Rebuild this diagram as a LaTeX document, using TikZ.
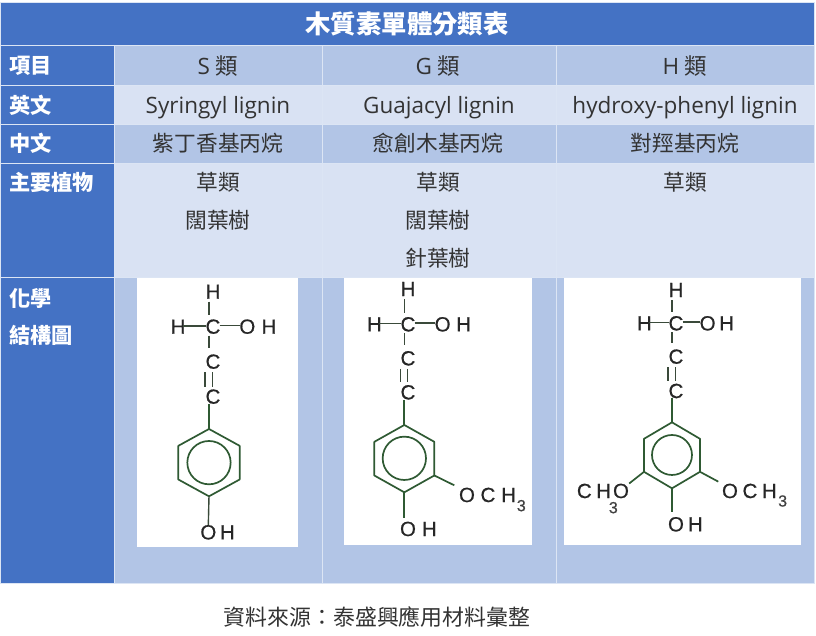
\documentclass[tikz,border=0pt]{standalone}
\usepackage{fontspec}
\setmainfont{Open Sans}
\newfontfamily\cjk{Noto Sans CJK TC}
\newfontfamily\atomfont[FakeBold=0.6]{Liberation Sans}
\definecolor{hdr}{HTML}{4472C4}
\definecolor{rowdark}{HTML}{B2C5E6}
\definecolor{rowlight}{HTML}{D9E2F3}
\definecolor{gridline}{HTML}{DCE5F4}
\definecolor{txt}{HTML}{333333}
\definecolor{ringgreen}{HTML}{2F5A33}
\definecolor{bondgrey}{HTML}{3A4A3A}
\tikzset{
  cellbox/.style={draw=gridline,line width=0.8pt,minimum width=0pt,inner sep=0pt},
  titletext/.style={text=white,font=\cjk\bfseries\fontsize{25.4}{28}\selectfont,anchor=center},
  sidetext/.style={text=white,font=\cjk\bfseries\fontsize{21.2}{24}\selectfont,anchor=west,inner sep=0pt},
  celltext/.style={text=txt,font=\fontsize{22.5}{25}\selectfont,anchor=center},
  cjkcell/.style={text=txt,font=\cjk\fontsize{21.7}{25}\selectfont,anchor=center},
  captiontext/.style={text=txt,font=\cjk\fontsize{21.9}{25}\selectfont,anchor=center},
  atom/.style={text=black!85,font=\atomfont\fontsize{20.5}{22}\selectfont,inner sep=0pt,anchor=center},
  subatom/.style={text=black!75,font=\atomfont\fontsize{16}{18}\selectfont,inner sep=0pt,anchor=center},
  ringbond/.style={draw=ringgreen,line width=1.7pt,line join=round},
  thinbond/.style={draw=bondgrey,line width=1.4pt},
  photo/.style={fill=white,draw=none}
}
\newcommand{\chain}[9]{%
  % #1 x of bonds, #2 x of atoms, #3 left H x, #4 O x, #5 H x, #6 top H y, #7 y C1, #8 y C2, #9 y C3
  \node[atom] (topH) at (#2,#6) {H};
  \node[atom] (cA) at (#2,#7) {C};
  \node[atom] (leftH) at (#3,#7) {H};
  \node[atom] (oA) at (#4,#7) {O};
  \node[atom] (hA) at (#5,#7) {H};
  \node[atom] (cB) at (#2,#8) {C};
  \node[atom] (cC) at (#2,#9) {C};
  \draw[thinbond] (#1,#6+30) coordinate (bA) -- (#1,#7-35) coordinate (bB);
  \draw[thinbond] (#3+15,#7-2) coordinate (bC) -- (#2-22,#7-2) coordinate (bD);
  \draw[thinbond] (#2+20,#7-4) coordinate (bE) -- (#4-22,#7-4) coordinate (bF);
  \draw[thinbond] (#1,#7+27) coordinate (bG) -- (#1,#8-40) coordinate (bH);
  \draw[thinbond] (#1-12,#8+32) coordinate (bI) -- (#1-12,#9-30) coordinate (bJ);
  \draw[thinbond] (#1+10,#8+32) coordinate (bK) -- (#1+10,#9-30) coordinate (bL);
}
\newcommand{\ring}[4]{%
  % #1 cx, #2 cy, #3 half-width, #4 half-height
  \coordinate (r1) at (#1,#2-#4);
  \coordinate (r2) at (#1+#3,#2-#4/2);
  \coordinate (r3) at (#1+#3,#2+#4/2);
  \coordinate (r4) at (#1,#2+#4);
  \coordinate (r5) at (#1-#3,#2+#4/2);
  \coordinate (r6) at (#1-#3,#2-#4/2);
  \draw[ringbond] (r1) -- (r2) -- (r3) -- (r4) -- (r5) -- (r6) -- cycle;
}
\begin{document}
\begin{tikzpicture}[x=1pt,y=-1pt]
\useasboundingbox (0,0) rectangle (816,635);
\fill[white] (0,0) rectangle (816,635);
% title bar
\draw[cellbox,fill=hdr] (0,2) rectangle (814,45);
\node[titletext] (title) at (407,24) {木質素單體分類表};
% row header column
\draw[cellbox,fill=hdr] (0,45) rectangle (114,85);
\draw[cellbox,fill=hdr] (0,85) rectangle (114,124);
\draw[cellbox,fill=hdr] (0,124) rectangle (114,163);
\draw[cellbox,fill=hdr] (0,163) rectangle (114,277);
\draw[cellbox,fill=hdr] (0,277) rectangle (114,583);
% body cells
\foreach \xa/\xb in {114/322,322/556,556/814}{
  \draw[cellbox,fill=rowdark] (\xa,45) rectangle (\xb,85);
  \draw[cellbox,fill=rowlight] (\xa,85) rectangle (\xb,124);
  \draw[cellbox,fill=rowdark] (\xa,124) rectangle (\xb,163);
  \draw[cellbox,fill=rowlight] (\xa,163) rectangle (\xb,277);
  \draw[cellbox,fill=rowdark] (\xa,277) rectangle (\xb,583);
}
% side labels
\node[sidetext] (s1) at (9,66) {項目};
\node[sidetext] (s2) at (9,105) {英文};
\node[sidetext] (s3) at (9,143) {中文};
\node[sidetext] (s4) at (9,182) {主要植物};
\node[sidetext] (s5) at (9,298) {化學};
\node[sidetext] (s6) at (9,335) {結構圖};
% column S
\node[celltext] (a1) at (218,66) {S {\cjk 類}};
\node[celltext] (a2) at (218,108) {Syringyl lignin};
\node[cjkcell] (a3) at (218,143) {紫丁香基丙烷};
\node[cjkcell] (a4) at (218,182) {草類};
\node[cjkcell] (a5) at (218,220) {闊葉樹};
% column G
\node[celltext] (b1) at (438,66) {G {\cjk 類}};
\node[celltext] (b2) at (439,108) {Guajacyl lignin};
\node[cjkcell] (b3) at (438,143) {愈創木基丙烷};
\node[cjkcell] (b4) at (438,182) {草類};
\node[cjkcell] (b5) at (438,220) {闊葉樹};
\node[cjkcell] (b6) at (438,258) {針葉樹};
% column H
\node[celltext] (c1) at (685,66) {H {\cjk 類}};
\node[celltext] (c2) at (685,108) {hydroxy-phenyl lignin};
\node[cjkcell] (c3) at (685,143) {對羥基丙烷};
\node[cjkcell] (c4) at (685,182) {草類};
% caption
\node[captiontext] (cap) at (377,617) {資料來源：泰盛興應用材料彙整};
% photos
\fill[photo] (137,278) rectangle (298,547);
\fill[photo] (344,278) rectangle (532,545);
\fill[photo] (564,278) rectangle (801,545);
% molecule S
\begin{scope}[shift={(114,275)},x=0.3333pt,y=-0.3333pt]
  \chain{285}{297}{192}{400}{465}{50}{155}{260}{365}
  \ring{285}{563}{92}{101}
  \draw[ringbond] (285,563) circle[radius=65];
  \node[atom] (oB) at (283,772) {O};
  \node[atom] (hB) at (340,772) {H};
  \draw[ringbond] (cC.south -| r1) -- (r1);
  \draw[thinbond] (r4) -- (oB.north);
\end{scope}
% molecule G
\begin{scope}[shift={(322,275)},x=0.3333pt,y=-0.3333pt]
  \chain{247}{258}{157}{362}{425}{42}{148}{250}{352}
  \ring{247}{551}{90}{101}
  \draw[ringbond] (247,550) circle[radius=65];
  \node[atom] (oB) at (258,762) {O};
  \node[atom] (hB) at (322,762) {H};
  \node[atom] (oC) at (435,660) {O};
  \node[atom] (cD) at (498,660) {C};
  \node[atom] (hC) at (560,660) {H};
  \node[subatom] (sA) at (598,692) {3};
  \draw[ringbond] (cC.south -| r1) -- (r1);
  \draw[ringbond,shorten >=4pt] (r4) -- (oB.north -| r4);
  \draw[ringbond,shorten >=5pt] (r3) -- (oC.north west);
\end{scope}
% molecule H
\begin{scope}[shift={(556,275)},x=0.3333pt,y=-0.3333pt]
  \chain{348}{360}{265}{455}{512}{45}{145}{245}{348}
  \ring{348}{541}{84}{99}
  \draw[ringbond] (348,540) circle[radius=60];
  \node[atom] (oB) at (360,748) {O};
  \node[atom] (hB) at (418,748) {H};
  \node[atom] (oC) at (522,648) {O};
  \node[atom] (cD) at (582,648) {C};
  \node[atom] (hC) at (640,648) {H};
  \node[subatom] (sA) at (680,678) {3};
  \node[atom] (cE) at (85,648) {C};
  \node[atom] (hD) at (143,648) {H};
  \node[atom] (oD) at (195,648) {O};
  \node[subatom] (sB) at (172,698) {3};
  \draw[ringbond] (cC.south -| r1) -- (r1);
  \draw[ringbond,shorten >=5pt] (r4) -- (oB.north -| r4);
  \draw[ringbond,shorten >=4pt] (r3) -- (oC.north west);
  \draw[ringbond] (r5) -- (oD.north east);
\end{scope}
\end{tikzpicture}
\end{document}
